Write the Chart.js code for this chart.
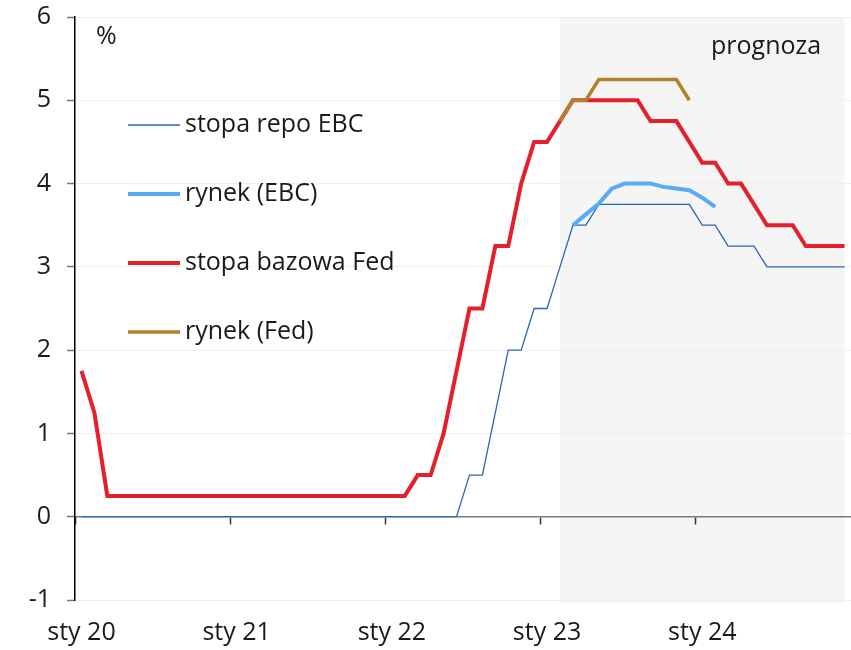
<!DOCTYPE html>
<html>
<head>
<meta charset="utf-8">
<script src="https://cdn.jsdelivr.net/npm/chart.js@4"></script>
<style>
  html, body { margin: 0; padding: 0; background: #fff; }
  #wrap { width: 851px; height: 650px; }
</style>
</head>
<body>
<div id="wrap"><canvas id="myChart"></canvas></div>
<script>
// etykiety osi: co 12 miesiecy
const yearLabels = ['sty 20', 'sty 21', 'sty 22', 'sty 23', 'sty 24'];
const months = yearLabels.flatMap(y => Array.from({ length: 12 }, (_, m) => (m + 1) + '/' + y.slice(4)));

const stopaRepoEBC = [
  0, 0, 0, 0, 0, 0, 0, 0, 0, 0, 0, 0,
  0, 0, 0, 0, 0, 0, 0, 0, 0, 0, 0, 0,
  0, 0, 0, 0, 0, 0, 0.5, 0.5, 1.25, 2, 2, 2.5,
  2.5, 3, 3.5, 3.5, 3.75, 3.75, 3.75, 3.75, 3.75, 3.75, 3.75, 3.75,
  3.5, 3.5, 3.25, 3.25, 3.25, 3, 3, 3, 3, 3, 3, 3
];
const rynekEBC = [
  null, null, null, null, null, null, null, null, null, null, null, null,
  null, null, null, null, null, null, null, null, null, null, null, null,
  null, null, null, null, null, null, null, null, null, null, null, null,
  null, null, 3.5, 3.63, 3.76, 3.94, 4.0, 4.0, 4.0, 3.96, 3.94, 3.92,
  3.83, 3.72, null, null, null, null, null, null, null, null, null, null
];
const stopaFed = [
  1.75, 1.25, 0.25, 0.25, 0.25, 0.25, 0.25, 0.25, 0.25, 0.25, 0.25, 0.25,
  0.25, 0.25, 0.25, 0.25, 0.25, 0.25, 0.25, 0.25, 0.25, 0.25, 0.25, 0.25,
  0.25, 0.25, 0.5, 0.5, 1, 1.75, 2.5, 2.5, 3.25, 3.25, 4, 4.5,
  4.5, 4.75, 5, 5, 5, 5, 5, 5, 4.75, 4.75, 4.75, 4.5,
  4.25, 4.25, 4, 4, 3.75, 3.5, 3.5, 3.5, 3.25, 3.25, 3.25, 3.25
];
const rynekFed = [
  null, null, null, null, null, null, null, null, null, null, null, null,
  null, null, null, null, null, null, null, null, null, null, null, null,
  null, null, null, null, null, null, null, null, null, null, null, null,
  null, 4.75, 5, 5, 5.25, 5.25, 5.25, 5.25, 5.25, 5.25, 5.25, 5,
  null, null, null, null, null, null, null, null, null, null, null, null
];

// prognoza: od lutego 23 do grudnia 24
const forecastFrom = 37;
const forecastTo = 59;

Chart.defaults.font.family = "'Open Sans', sans-serif";
Chart.defaults.font.size = 25;
Chart.defaults.color = '#1a1a1a';

const shadePlugin = {
  id: 'shade',
  beforeDraw(chart) {
    const { ctx, scales: { x, y } } = chart;
    const x0 = x.getPixelForValue(forecastFrom);
    const x1 = x.getPixelForValue(forecastTo);
    const y0 = y.getPixelForValue(6);
    const y1 = y.getPixelForValue(-1) + 3;
    ctx.save();
    ctx.fillStyle = '#f5f5f5';
    ctx.fillRect(x0, y0, x1 - x0, y1 - y0);
    ctx.restore();
  }
};

const textPlugin = {
  id: 'texts',
  afterDraw(chart) {
    const ctx = chart.ctx;
    ctx.save();
    ctx.font = "25px 'Open Sans', sans-serif";
    ctx.fillStyle = '#1a1a1a';
    ctx.textBaseline = 'middle';
    ctx.textAlign = 'left';
    ctx.fillText('%', 96, 37);
    ctx.fillText('prognoza', 711, 47);
    chart.data.datasets.forEach((ds, i) => {
      const yy = 125 + i * 69;
      ctx.strokeStyle = ds.borderColor;
      ctx.lineWidth = ds.borderWidth;
      ctx.beginPath();
      ctx.moveTo(128, yy);
      ctx.lineTo(180, yy);
      ctx.stroke();
      ctx.fillText(ds.label, 185, yy);
    });
    ctx.restore();
  }
};

const noSidePad = s => { s.paddingLeft = 0; s.paddingRight = 0; };

new Chart(document.getElementById('myChart'), {
  type: 'line',
  data: {
    labels: months,
    datasets: [
      { label: 'stopa repo EBC', data: stopaRepoEBC, borderColor: '#2b67b0', borderWidth: 1.3, order: 3 },
      { label: 'rynek (EBC)', data: rynekEBC, borderColor: '#58abf4', borderWidth: 4, order: 2 },
      { label: 'stopa bazowa Fed', data: stopaFed, borderColor: '#e3202b', borderWidth: 4, order: 1 },
      { label: 'rynek (Fed)', data: rynekFed, borderColor: '#b2822b', borderWidth: 3.5, order: 0 }
    ]
  },
  options: {
    responsive: true,
    maintainAspectRatio: false,
    animation: false,
    layout: { padding: { top: 17, left: 0, right: 0, bottom: 0 } },
    elements: { point: { radius: 0 }, line: { tension: 0 } },
    plugins: { legend: { display: false }, tooltip: { enabled: false } },
    scales: {
      x: {
        offset: true,
        border: { display: false },
        grid: { display: false },
        ticks: {
          autoSkip: false,
          maxRotation: 0,
          padding: 10,
          callback: (v, i) => (i % 12 === 0 ? yearLabels[i / 12] : '')
        },
        afterFit: s => { s.height = 50; noSidePad(s); }
      },
      x2: {
        axis: 'x',
        type: 'category',
        position: { y: 0 },
        offset: true,
        border: { display: true, color: '#7a7a7a', width: 1.5 },
        grid: {
          offset: true,
          drawOnChartArea: false,
          tickLength: 7,
          tickColor: c => (c.index % 12 === 0 ? '#333' : 'rgba(0,0,0,0)'),
          tickWidth: 1.5
        },
        ticks: { display: false, autoSkip: false },
        afterFit: noSidePad
      },
      y: {
        min: -1,
        max: 6,
        border: { display: true, color: '#000', width: 1.5 },
        grid: { color: '#efefef', tickColor: '#777', tickLength: 8, tickWidth: 1.5 },
        ticks: { stepSize: 1, padding: 16 },
        afterFit: s => { s.width = 75; s.paddingTop = 0; s.paddingBottom = 0; }
      }
    }
  },
  plugins: [shadePlugin, textPlugin]
});
</script>
</body>
</html>
